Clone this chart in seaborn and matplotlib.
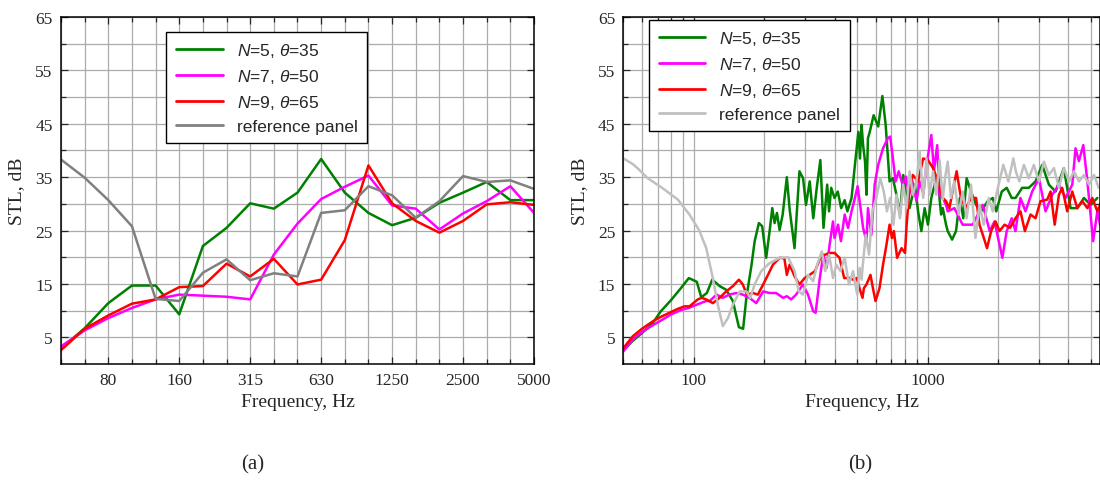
import numpy as np
import pandas as pd
import matplotlib
matplotlib.use("Agg")
import matplotlib.pyplot as plt
from matplotlib.ticker import FixedLocator, NullFormatter, FixedFormatter
import seaborn as sns

# ---------------- data: panel (a), 1/3-octave bands ----------------
BANDS = [50, 63, 80, 100, 125, 160, 200, 250, 315, 400, 500, 630, 800,
         1000, 1250, 1600, 2000, 2500, 3150, 4000, 5000]
BAND_TICKS = ["80", "160", "315", "630", "1250", "2500", "5000"]
A_N5 = [2.9, 6.7, 11.4, 14.7, 14.7, 9.3, 22.1, 25.5, 30.1, 29.1, 32.1, 38.4,
        32.1, 28.3, 26.0, 27.4, 30.2, 32.1, 34.1, 30.7, 30.7]
A_N7 = [3.3, 6.3, 8.6, 10.5, 12.1, 13.0, 12.8, 12.6, 12.1, 20.5, 26.3, 30.9,
        33.2, 35.3, 29.7, 29.1, 25.2, 28.2, 30.5, 33.3, 28.3]
A_N9 = [2.6, 6.6, 9.1, 11.3, 12.1, 14.4, 14.6, 18.8, 16.4, 19.7, 14.9, 15.8,
        23.2, 37.2, 30.1, 26.8, 24.6, 26.8, 29.9, 30.3, 29.8]
A_REF = [38.3, 34.9, 30.7, 25.8, 12.2, 11.8, 17.1, 19.6, 15.7, 17.0, 16.4,
         28.3, 28.8, 33.3, 31.6, 27.4, 30.5, 35.2, 34.1, 34.4, 32.8]

# ---------------- data: panel (b), narrow band ----------------
B_TICKS = [100, 1000]
B_TICK_LABELS = ["100", "1000"]
F_N5 = [50, 55, 60, 66.8, 72, 80, 88, 95.2, 103, 107.6, 113.7, 119.9, 128.9,
        137.6, 146.9, 155.9, 162.5, 167.8, 176.6, 182.1, 189.8, 196.1, 204,
        211, 216.6, 221.6, 226.8, 232.8, 240, 250, 257, 269.7, 283.1, 293.3,
        301.9, 313.2, 324.4, 335.7, 347.8, 358.8, 372, 379, 387, 400, 413, 427,
        442, 454, 473, 489, 506, 514, 522, 530, 540, 548, 556, 566, 588, 615,
        641, 662, 688, 711, 736, 762, 787, 814, 838, 883, 911, 941, 972, 1004,
        1038, 1090, 1120, 1143, 1162, 1200, 1220, 1274, 1324, 1376, 1422, 1470,
        1535, 1614, 1695, 1809, 1902, 1968, 2078, 2182, 2292, 2380, 2540, 2712,
        2898, 3095, 3306, 3532, 3830, 4093, 4373, 4671, 4990, 5330]
S_N5 = [2.6, 4.4, 5.8, 7.7, 9.8, 12.0, 14.2, 16.1, 15.4, 12.5, 13.3, 15.8, 14.6,
        13.9, 11.8, 6.9, 6.6, 12.4, 18.6, 23.0, 26.4, 25.8, 19.9,
        24.9, 29.2, 26.4, 28.3, 25.1, 28.0, 35.0, 29.0, 21.7, 36.1, 34.8,
        29.8, 34.2, 27.3, 33.0, 38.2, 25.5, 33.6, 28.6, 33.0, 31.1, 32.3, 29.2,
        30.7, 28.6, 31.1, 37.3, 43.5, 38.5, 44.8, 41.0, 38.0, 31.7, 42.3, 43.5, 46.6, 44.5,
        50.2, 44.8, 34.2, 34.8, 31.7, 28.0, 35.4, 31.1, 29.2, 33.6, 28.6, 24.9, 29.2, 26.1,
        31.1, 34.8, 32.0, 28.0, 29.2, 26.1, 24.9, 23.3, 24.9, 31.1, 27.3, 34.8,
        32.3, 29.8, 28.6, 30.5, 31.1, 28.6, 32.3, 33.0, 31.1, 31.1, 33.0, 33.0,
        34.2, 37.3, 33.6, 32.3, 36.7, 29.2, 29.2, 31.1, 29.8, 31.1]

F_N7 = [50, 55, 60, 67, 74, 80, 88, 95, 104, 113, 117, 125, 133, 142, 152, 162,
        173, 185, 198, 211, 225, 241, 250, 261, 274, 293, 308, 324, 332, 346,
        358, 370, 381, 394, 400, 414, 426, 442, 457, 473, 489, 502, 514, 530,
        548, 556, 575, 594, 615, 645, 677, 692, 711, 730, 753, 782, 808, 833,
        862, 897, 925, 960, 990, 1038, 1065, 1100, 1126, 1162, 1200, 1220, 1303,
        1413, 1560, 1724, 1845, 1935, 2090, 2182, 2292, 2378, 2498, 2626, 2804,
        2995, 3199, 3417, 3650, 3897, 4163, 4298, 4443, 4641, 4831, 5110, 5330,
        5474]
S_N7 = [2.4, 4.7, 6.0, 7.3, 8.4, 9.3, 10.1, 10.5, 11.2, 11.8, 11.8, 13.0, 12.4,
        13.0, 13.3, 13.0, 12.4, 11.4, 13.6, 13.3, 13.3, 12.4, 12.7, 12.1, 13.0,
        14.9, 13.0, 9.9, 9.6, 16.1, 20.5, 18.0, 22.3, 26.7, 23.6, 26.1, 23.0,
        28.0, 25.5, 28.6, 31.1, 33.3, 30.0, 25.5, 23.0, 29.2, 24.2, 33.6, 37.3,
        40.4, 42.3, 42.6, 38.5, 34.2, 36.1, 33.6, 35.1, 31.7, 34.2, 30.5, 34.2,
        32.0, 37.3, 42.9, 36.1, 41.0, 31.5, 31.1, 29.8, 28.6, 29.2, 26.1, 26.1,
        29.8, 24.9, 26.7, 19.9, 24.9, 27.3, 24.9, 31.1, 28.6, 32.3, 34.8, 28.6,
        31.7, 33.6, 31.1, 33.6, 40.4, 38.0, 41.0, 34.2, 23.0, 28.6, 26.1]

F_N9 = [50, 54.8, 60, 66.8, 72, 78.7, 85, 91.2, 95.8, 104, 108, 113, 120.6,
        128.9, 137.6, 147, 155.9, 162, 168.7, 179, 188, 198, 207.6, 218, 233,
        244, 250, 257, 270, 283, 298, 313, 330, 348, 365, 383, 400, 420, 440,
        465, 480, 498, 514, 527, 534, 548, 570, 584, 599, 623, 645, 667, 688,
        704, 718, 741, 774, 801, 814, 838, 865, 911, 958, 1004, 1056, 1110,
        1126, 1162, 1200, 1240, 1332, 1390, 1460, 1535, 1614, 1668, 1724, 1797,
        1872, 1954, 2032, 2136, 2254, 2378, 2498, 2610, 2760, 2898, 3044, 3253,
        3360, 3500, 3650, 3770, 3960, 4163, 4373, 4593, 4831, 5070, 5330, 5474]
S_N9 = [3.0, 5.2, 6.6, 8.0, 8.8, 9.6, 10.3, 10.8, 10.8, 12.1, 12.4, 12.1, 11.4,
        12.4, 13.6, 14.6, 15.8, 14.9, 13.0, 13.3, 13.0, 14.9, 16.7, 18.6, 19.9,
        19.8, 16.7, 18.6, 16.4, 14.9, 16.1, 16.7, 17.4, 19.9, 20.5, 20.8, 20.8,
        19.9, 16.1, 16.1, 15.8, 16.1, 13.9, 12.4, 14.2, 14.9, 16.7, 14.2, 11.8,
        14.2, 18.6, 22.3, 26.1, 23.6, 24.9, 19.9, 21.7, 20.8, 26.1, 33.0, 35.4,
        34.2, 38.5, 38.2, 36.7, 34.2, 33.0, 31.1, 30.5, 29.2, 36.1, 31.1, 29.2,
        31.1, 31.1, 26.1, 24.2, 21.7, 24.9, 26.7, 24.9, 26.1, 25.5, 27.3, 28.6,
        24.9, 28.0, 27.3, 30.5, 30.8, 32.3, 26.1, 31.7, 33.0, 28.6, 32.3, 29.2,
        30.5, 29.2, 31.1, 28.6, 29.8]

F_REF = [50, 55, 58, 63.5, 73.7, 85.4, 95.8, 105.8, 113, 120.6, 126.7, 133,
         139.9, 147, 157, 167.8, 174.5, 182, 194.3, 211, 233, 253, 270, 281,
         293, 308, 324, 337, 353, 365, 379, 394, 407, 424, 442, 461, 480, 500,
         512, 522, 527, 544, 562, 581, 604, 628, 650, 670, 692, 715, 736, 762,
         787, 814, 838, 865, 897, 925, 958, 990, 1021, 1056, 1090, 1126, 1162,
         1190, 1220, 1260, 1303, 1359, 1413, 1470, 1535, 1603, 1668, 1741, 1827,
         1902, 1999, 2110, 2217, 2329, 2390, 2470, 2585, 2712, 2850, 2995, 3148,
         3306, 3475, 3650, 3830, 4030, 4232, 4443, 4671, 4910, 5160, 5400]
S_REF = [38.5, 37.4, 36.5, 34.8, 32.9, 30.8, 28.0, 24.9, 21.7, 16.1, 11.1, 7.1,
         8.6, 11.1, 13.6, 13.6, 12.4, 14.9, 17.4, 18.9, 19.9, 20.0, 17.4, 13.6,
         13.0, 16.7, 15.5, 18.6, 21.1, 17.4, 20.5, 16.1, 18.6, 17.4, 19.9, 14.9,
         17.4, 13.0, 18.0, 15.8, 18.0, 24.2, 20.5, 28.6, 31.1, 34.8, 32.3, 28.6,
         31.1, 26.1, 31.7, 27.3, 33.6, 29.2, 36.1, 31.7, 34.2, 39.8, 31.1, 38.5,
         31.7, 36.1, 31.7, 38.2, 30.8, 35.0, 37.9, 31.1, 34.2, 28.0, 32.3, 27.3,
         33.6, 23.6, 29.8, 26.1, 31.1, 28.6, 33.0, 37.3, 34.2, 38.5, 36.0, 34.2,
         37.3, 34.8, 37.3, 34.2, 37.9, 35.4, 36.7, 33.0, 36.7, 34.2, 36.1, 34.2,
         35.4, 33.6, 35.4, 33.0]

LABELS = ["$N$=5, $\\theta$=35", "$N$=7, $\\theta$=50",
          "$N$=9, $\\theta$=65", "reference panel"]
COLORS_A = ["#008000", "#ff00ff", "#ff0000", "#808080"]
COLORS_B = ["#008000", "#ff00ff", "#ff0000", "#c0c0c0"]

# ---------------- style ----------------
sns.set_style("ticks")
plt.rcParams["font.family"] = ["Liberation Serif", "DejaVu Serif"]
plt.rcParams["mathtext.fontset"] = "custom"
plt.rcParams["mathtext.rm"] = "Liberation Sans"
plt.rcParams["mathtext.it"] = "Liberation Sans:italic"

GRID_C = "#ababab"

df_a = pd.concat([
    pd.DataFrame({"x": np.arange(len(BANDS)), "stl": vals, "series": lab})
    for vals, lab in zip([A_N5, A_N7, A_N9, A_REF], LABELS)
], ignore_index=True)

df_b = pd.concat([
    pd.DataFrame({"f": f, "stl": s, "series": lab})
    for f, s, lab in zip([F_N5, F_N7, F_N9, F_REF],
                         [S_N5, S_N7, S_N9, S_REF], LABELS)
], ignore_index=True)

fig = plt.figure(figsize=(11.0, 4.85), dpi=100)
ax1 = fig.add_axes([0.05545, 0.2474, 0.43, 0.7155])
ax2 = fig.add_axes([0.5668, 0.2474, 0.4332, 0.7155])

sns.lineplot(data=df_a, x="x", y="stl", hue="series", hue_order=LABELS,
             palette=COLORS_A, estimator=None, sort=False, linewidth=1.8,
             ax=ax1)
sns.lineplot(data=df_b, x="f", y="stl", hue="series", hue_order=LABELS,
             palette=COLORS_B, estimator=None, sort=False, linewidth=1.8,
             ax=ax2)

def style_common(ax):
    ax.set_ylim(0, 65)
    ax.yaxis.set_major_locator(FixedLocator([5, 15, 25, 35, 45, 55, 65]))
    ax.yaxis.set_minor_locator(FixedLocator([10, 20, 30, 40, 50, 60]))
    ax.grid(True, which="both", color=GRID_C, linewidth=0.9)
    ax.set_axisbelow(True)
    ax.tick_params(which="both", direction="in", top=True, right=True,
                   labelsize=12.5, pad=6, width=0.9)
    ax.tick_params(which="major", length=5)
    ax.tick_params(which="minor", length=3.5)
    for sp in ax.spines.values():
        sp.set_visible(True)
        sp.set_linewidth(1.1)
        sp.set_color("black")
    ax.set_ylabel("STL, dB", fontsize=14, labelpad=7)
    ax.set_xlabel("Frequency, Hz", fontsize=14, labelpad=3)

style_common(ax1)
ax1.set_xlim(0, len(BANDS) - 1)
tick_pos = [BANDS.index(int(t)) for t in BAND_TICKS]
ax1.xaxis.set_major_locator(FixedLocator(tick_pos))
ax1.xaxis.set_major_formatter(FixedFormatter(BAND_TICKS))
ax1.xaxis.set_minor_locator(FixedLocator(range(len(BANDS))))

style_common(ax2)
ax2.set_xscale("log")
ax2.set_xlim(50, 5470)
ax2.xaxis.set_major_locator(FixedLocator(B_TICKS))
ax2.xaxis.set_major_formatter(FixedFormatter(B_TICK_LABELS))
ax2.xaxis.set_minor_formatter(NullFormatter())

def make_legend(ax, anchor):
    h, l = ax.get_legend_handles_labels()
    leg = ax.legend(h, l, loc="upper left", bbox_to_anchor=anchor,
                    borderaxespad=0, fancybox=False, framealpha=1,
                    edgecolor="black", handlelength=2.7, handletextpad=0.8,
                    borderpad=0.55, labelspacing=0.45,
                    prop={"family": "Liberation Sans", "size": 12.5})
    leg.get_frame().set_linewidth(1.0)
    for line in leg.get_lines():
        line.set_linewidth(2.0)
    return leg

make_legend(ax1, (0.223, 0.958))
make_legend(ax2, (0.0535, 0.992))

fig.text(253 / 1100, 1 - 465 / 485, "(a)", ha="center", va="center", fontsize=15)
fig.text(860 / 1100, 1 - 465 / 485, "(b)", ha="center", va="center", fontsize=15)

fig.savefig("out.png", dpi=100)
